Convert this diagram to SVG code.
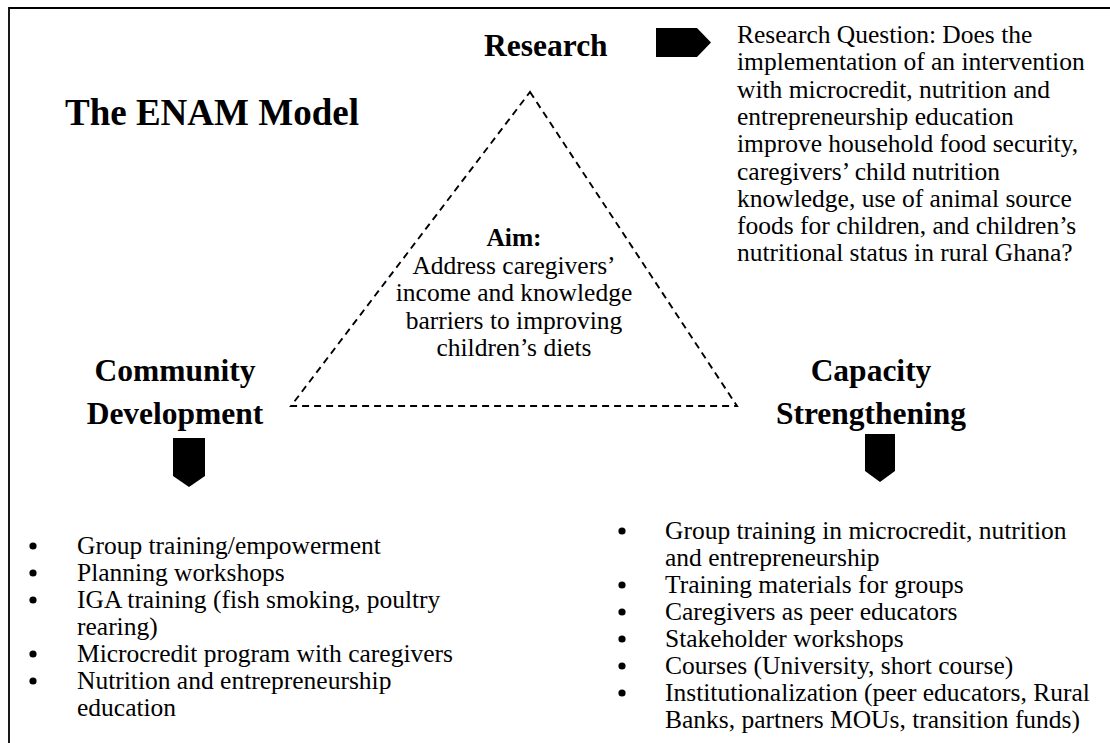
<svg xmlns="http://www.w3.org/2000/svg" width="1110" height="743" viewBox="0 0 1110 743">
  <style>
    .body { font-family: "Liberation Serif", "Times New Roman", serif; font-size: 25.5px; fill: #000; }
    .head { font-family: "Liberation Serif", "Times New Roman", serif; font-size: 31.5px; font-weight: bold; fill: #000; }
    .title { font-family: "Liberation Serif", "Times New Roman", serif; font-size: 37px; font-weight: bold; fill: #000; }
    .mid { text-anchor: middle; }
    .frame { fill: none; stroke: #000; stroke-width: 1.8; }
    .dash { fill: none; stroke: #000; stroke-width: 1.9; stroke-dasharray: 7 5; }
    .arrow { fill: #000; }
    .dot { fill: #000; }
  </style>

  <rect width="1110" height="743" fill="#fff"/>
  <!-- outer frame (right and bottom edges run past the canvas) -->
  <path class="frame" d="M9,743 V8 H1110"/>

  <g id="title">
    <text class="title" x="65" y="125">The ENAM Model</text>
  </g>

  <!-- connectors: dashed triangle and block arrows -->
  <g id="connectors">
    <polygon class="dash" points="530,92 737,406 291,406"/>
    <polygon class="arrow" points="656,28 697,28 711,42.5 697,57 656,57"/>
    <polygon class="arrow" points="173,438 205,438 205,476 189,487 173,476"/>
    <polygon class="arrow" points="865,434 895,434 895,471 880,482 865,471"/>
  </g>

  <g id="research">
    <text class="head" x="484" y="56">Research</text>
  </g>

  <g id="research-question" class="body">
    <text x="737" y="43">Research Question: Does the</text>
    <text x="737" y="70.3">implementation of an intervention</text>
    <text x="737" y="97.6">with microcredit, nutrition and</text>
    <text x="737" y="124.9">entrepreneurship education</text>
    <text x="737" y="152.2">improve household food security,</text>
    <text x="737" y="179.5">caregivers’ child nutrition</text>
    <text x="737" y="206.8">knowledge, use of animal source</text>
    <text x="737" y="234.1">foods for children, and children’s</text>
    <text x="737" y="261.4">nutritional status in rural Ghana?</text>
  </g>

  <g id="aim">
    <text class="body mid" x="514" y="246" font-weight="bold">Aim:</text>
    <text class="body mid" x="514" y="273.5">Address caregivers’</text>
    <text class="body mid" x="514" y="301">income and knowledge</text>
    <text class="body mid" x="514" y="328.5">barriers to improving</text>
    <text class="body mid" x="514" y="356">children’s diets</text>
  </g>

  <g id="community-development">
    <text class="head mid" x="175" y="381">Community</text>
    <text class="head mid" x="175" y="424">Development</text>
  </g>

  <g id="capacity-strengthening">
    <text class="head mid" x="871" y="381">Capacity</text>
    <text class="head mid" x="871" y="424">Strengthening</text>
  </g>

  <g id="community-list" class="body">
    <circle class="dot" cx="33" cy="546" r="3.6"/>
    <text x="77" y="554">Group training/empowerment</text>
    <circle class="dot" cx="33" cy="573" r="3.6"/>
    <text x="77" y="581">Planning workshops</text>
    <circle class="dot" cx="33" cy="600" r="3.6"/>
    <text x="77" y="608">IGA training (fish smoking, poultry</text>
    <text x="77" y="635">rearing)</text>
    <circle class="dot" cx="33" cy="654" r="3.6"/>
    <text x="77" y="662">Microcredit program with caregivers</text>
    <circle class="dot" cx="33" cy="681" r="3.6"/>
    <text x="77" y="689">Nutrition and entrepreneurship</text>
    <text x="77" y="716">education</text>
  </g>

  <g id="capacity-list" class="body">
    <circle class="dot" cx="622" cy="531" r="3.6"/>
    <text x="665" y="539">Group training in microcredit, nutrition</text>
    <text x="665" y="566">and entrepreneurship</text>
    <circle class="dot" cx="622" cy="585" r="3.6"/>
    <text x="665" y="593">Training materials for groups</text>
    <circle class="dot" cx="622" cy="612" r="3.6"/>
    <text x="665" y="620">Caregivers as peer educators</text>
    <circle class="dot" cx="622" cy="639" r="3.6"/>
    <text x="665" y="647">Stakeholder workshops</text>
    <circle class="dot" cx="622" cy="666" r="3.6"/>
    <text x="665" y="674">Courses (University, short course)</text>
    <circle class="dot" cx="622" cy="693" r="3.6"/>
    <text x="665" y="701">Institutionalization (peer educators, Rural</text>
    <text x="665" y="728">Banks, partners MOUs, transition funds)</text>
  </g>
</svg>
